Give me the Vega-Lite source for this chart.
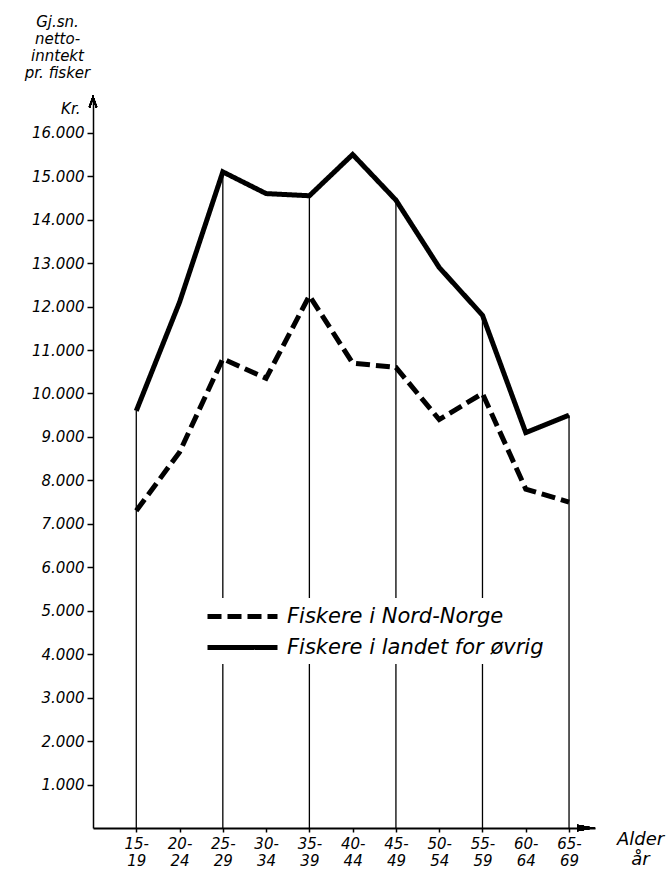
{
  "$schema": "https://vega.github.io/schema/vega-lite/v6.json",
  "width": 502,
  "height": 730,
  "autosize": {"type": "none"},
  "padding": {"left": 93, "top": 98, "right": 77, "bottom": 42},
  "background": "white",
  "config": {"view": {"stroke": null}},
  "datasets": {
    "inntekt": [
      {"alder": "15-19", "fra": 15, "gruppe": "Fiskere i Nord-Norge", "inntekt": 7300},
      {"alder": "20-24", "fra": 20, "gruppe": "Fiskere i Nord-Norge", "inntekt": 8650},
      {"alder": "25-29", "fra": 25, "gruppe": "Fiskere i Nord-Norge", "inntekt": 10800},
      {"alder": "30-34", "fra": 30, "gruppe": "Fiskere i Nord-Norge", "inntekt": 10350},
      {"alder": "35-39", "fra": 35, "gruppe": "Fiskere i Nord-Norge", "inntekt": 12250},
      {"alder": "40-44", "fra": 40, "gruppe": "Fiskere i Nord-Norge", "inntekt": 10700},
      {"alder": "45-49", "fra": 45, "gruppe": "Fiskere i Nord-Norge", "inntekt": 10600},
      {"alder": "50-54", "fra": 50, "gruppe": "Fiskere i Nord-Norge", "inntekt": 9400},
      {"alder": "55-59", "fra": 55, "gruppe": "Fiskere i Nord-Norge", "inntekt": 10000},
      {"alder": "60-64", "fra": 60, "gruppe": "Fiskere i Nord-Norge", "inntekt": 7800},
      {"alder": "65-69", "fra": 65, "gruppe": "Fiskere i Nord-Norge", "inntekt": 7500},
      {"alder": "15-19", "fra": 15, "gruppe": "Fiskere i landet for øvrig", "inntekt": 9600},
      {"alder": "20-24", "fra": 20, "gruppe": "Fiskere i landet for øvrig", "inntekt": 12100},
      {"alder": "25-29", "fra": 25, "gruppe": "Fiskere i landet for øvrig", "inntekt": 15100},
      {"alder": "30-34", "fra": 30, "gruppe": "Fiskere i landet for øvrig", "inntekt": 14600},
      {"alder": "35-39", "fra": 35, "gruppe": "Fiskere i landet for øvrig", "inntekt": 14550},
      {"alder": "40-44", "fra": 40, "gruppe": "Fiskere i landet for øvrig", "inntekt": 15500},
      {"alder": "45-49", "fra": 45, "gruppe": "Fiskere i landet for øvrig", "inntekt": 14450},
      {"alder": "50-54", "fra": 50, "gruppe": "Fiskere i landet for øvrig", "inntekt": 12900},
      {"alder": "55-59", "fra": 55, "gruppe": "Fiskere i landet for øvrig", "inntekt": 11800},
      {"alder": "60-64", "fra": 60, "gruppe": "Fiskere i landet for øvrig", "inntekt": 9100},
      {"alder": "65-69", "fra": 65, "gruppe": "Fiskere i landet for øvrig", "inntekt": 9500}
    ]
  },
  "data": {"name": "inntekt"},
  "layer": [
    {
      "transform": [{"filter": "datum.gruppe == 'Fiskere i landet for øvrig' && (datum.fra - 15) % 10 == 0"}],
      "mark": {"type": "rule", "strokeWidth": 1.3, "color": "black"},
      "encoding": {
        "x": {
          "field": "fra", "type": "quantitative",
          "scale": {"domain": [10, 68], "nice": false, "zero": false},
          "axis": {
            "title": ["Alder", "år"],
            "values": [15, 20, 25, 30, 35, 40, 45, 50, 55, 60, 65],
            "labelExpr": "[datum.value + '-', '' + (datum.value + 4)]",
            "grid": false,
            "domainColor": "black", "domainWidth": 2,
            "tickColor": "black", "tickSize": 4, "tickWidth": 1.5,
            "labelFont": "DejaVu Sans", "labelFontStyle": "italic", "labelFontSize": 15,
            "labelColor": "black", "labelLineHeight": 17, "labelPadding": 4,
            "labelFlush": false, "labelOverlap": false,
            "titleFont": "DejaVu Sans", "titleFontStyle": "italic", "titleFontWeight": "normal",
            "titleFontSize": 18, "titleColor": "black", "titleAlign": "center",
            "titleX": 547, "titleY": 2, "titleBaseline": "top", "titleLineHeight": 20
          }
        },
        "y": {
          "field": "inntekt", "type": "quantitative",
          "scale": {"domain": [0, 16800], "nice": false},
          "axis": {
            "title": ["Gj.sn.", "netto-", "inntekt", "pr. fisker"],
            "values": [1000, 2000, 3000, 4000, 5000, 6000, 7000, 8000, 9000, 10000, 11000, 12000, 13000, 14000, 15000, 16000, 16560],
            "labelExpr": "datum.value > 16000 ? 'Kr.' : replace(format(datum.value, ','), ',', '.')",
            "labelOverlap": false,
            "grid": false,
            "domainColor": "black", "domainWidth": 1.5,
            "tickColor": "black", "tickSize": 6, "tickWidth": 1.5,
            "tickOpacity": {"condition": {"test": "datum.value > 16000", "value": 0}, "value": 1},
            "labelFont": "DejaVu Sans", "labelFontStyle": "italic", "labelFontSize": 15,
            "labelColor": "black",
            "labelPadding": {"condition": {"test": "datum.value > 16000", "value": 7}, "value": 3},
            "titleFont": "DejaVu Sans", "titleFontStyle": "italic", "titleFontWeight": "normal",
            "titleFontSize": 15, "titleColor": "black", "titleAngle": 0,
            "titleAlign": "center", "titleBaseline": "top",
            "titleX": -36, "titleY": -84, "titleLineHeight": 17
          }
        },
        "y2": {"datum": 0}
      }
    },
    {
      "mark": {"type": "line", "strokeWidth": 5, "color": "black", "strokeJoin": "miter"},
      "encoding": {
        "x": {"field": "fra", "type": "quantitative"},
        "y": {"field": "inntekt", "type": "quantitative"},
        "strokeDash": {
          "field": "gruppe", "type": "nominal",
          "scale": {"domain": ["Fiskere i Nord-Norge", "Fiskere i landet for øvrig"], "range": [[14, 6], [1, 0]]},
          "legend": {
            "title": null, "orient": "none", "legendX": 106, "legendY": 500,
            "direction": "vertical",
            "symbolType": "M-1,0H6", "symbolSize": 400, "symbolStrokeWidth": 5,
            "symbolStrokeColor": "black", "symbolFillColor": "transparent",
            "labelOffset": 57, "labelFont": "DejaVu Sans", "labelFontStyle": "italic",
            "labelFontSize": 21, "labelColor": "black", "labelLimit": 400,
            "rowPadding": 8, "padding": 6, "fillColor": "white"
          }
        }
      }
    },
    {
      "mark": {"type": "point", "shape": "M-0.7,1L0,-1L0.7,1", "size": 100, "filled": false, "stroke": "black", "strokeWidth": 1.5, "opacity": 1},
      "encoding": {"x": {"datum": 10}, "y": {"datum": 16700}}
    },
    {
      "mark": {"type": "point", "shape": "M-1,-0.35L1,0L-1,0.35Z", "size": 324, "filled": true, "color": "black", "opacity": 1},
      "encoding": {"x": {"datum": 67}, "y": {"datum": 0}}
    }
  ]
}
